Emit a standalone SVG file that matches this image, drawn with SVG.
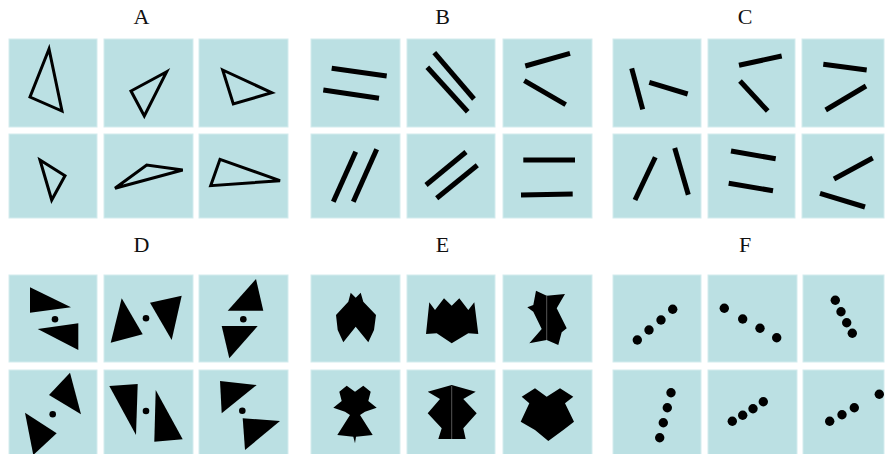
<svg xmlns="http://www.w3.org/2000/svg" width="885" height="454" viewBox="0 0 885 454">
  <style>
    .tile { fill: #bbe0e3; stroke: #d3ecee; stroke-width: 1; }
    .title { font-family: "Liberation Serif", "Times New Roman", serif; font-size: 22px; fill: #111; text-anchor: middle; }
    .outline { fill: none; stroke: #000; stroke-width: 3; stroke-linejoin: miter; }
    .bar { stroke: #000; stroke-width: 5; stroke-linecap: butt; }
    .solid { fill: #000; }
    .seam { stroke: #555; stroke-width: 1; }
  </style>
  <rect width="885" height="454" fill="#fff"/>

  <!-- panel titles -->
  <g id="titles">
    <text class="title" x="141.5" y="24">A</text>
    <text class="title" x="442.5" y="24">B</text>
    <text class="title" x="745" y="24">C</text>
    <text class="title" x="141.5" y="252">D</text>
    <text class="title" x="442.5" y="252">E</text>
    <text class="title" x="745" y="252">F</text>
  </g>

  <!-- Panel A: triangle outlines -->
  <g id="panel-a">
    <g id="a1"><rect class="tile" x="9" y="39" width="88" height="88"/><polygon class="outline" points="49,49 30,97 62,111"/></g>
    <g id="a2"><rect class="tile" x="104" y="39" width="89" height="88"/><polygon class="outline" points="166.7,71.7 131,91 144.3,116"/></g>
    <g id="a3"><rect class="tile" x="199" y="39" width="89" height="88"/><polygon class="outline" points="222.7,70 271.7,92.7 233.3,104"/></g>
    <g id="a4"><rect class="tile" x="9" y="134" width="88" height="84"/><polygon class="outline" points="40,160 65,175.7 51.7,200"/></g>
    <g id="a5"><rect class="tile" x="104" y="134" width="89" height="84"/><polygon class="outline" points="115,188.3 146.7,165 182.7,170"/></g>
    <g id="a6"><rect class="tile" x="199" y="134" width="89" height="84"/><polygon class="outline" points="220,159.3 280,180.7 210.7,185.7"/></g>
  </g>

  <!-- Panel B: bar pairs -->
  <g id="panel-b">
    <g id="b1"><rect class="tile" x="311" y="39" width="89" height="88"/>
      <line class="bar" x1="331.7" y1="68.3" x2="386.7" y2="76"/><line class="bar" x1="323.3" y1="90" x2="379" y2="98.3"/></g>
    <g id="b2"><rect class="tile" x="407" y="39" width="88" height="88"/>
      <line class="bar" x1="434.3" y1="52.7" x2="474" y2="99"/><line class="bar" x1="427.3" y1="67.3" x2="467.7" y2="111.7"/></g>
    <g id="b3"><rect class="tile" x="503" y="39" width="89" height="88"/>
      <line class="bar" x1="525.3" y1="66" x2="570" y2="53.3"/><line class="bar" x1="524.3" y1="80.7" x2="565.7" y2="104.7"/></g>
    <g id="b4"><rect class="tile" x="311" y="134" width="89" height="84"/>
      <line class="bar" x1="333.3" y1="201.7" x2="355.7" y2="151.7"/><line class="bar" x1="353.3" y1="201.7" x2="376.7" y2="149.3"/></g>
    <g id="b5"><rect class="tile" x="407" y="134" width="88" height="84"/>
      <line class="bar" x1="426" y1="185" x2="466" y2="152"/><line class="bar" x1="436.7" y1="198.3" x2="477.3" y2="165.3"/></g>
    <g id="b6"><rect class="tile" x="503" y="134" width="89" height="84"/>
      <line class="bar" x1="523.3" y1="160" x2="575" y2="160"/><line class="bar" x1="521" y1="195" x2="572.7" y2="194"/></g>
  </g>

  <!-- Panel C: bar pairs -->
  <g id="panel-c">
    <g id="c1"><rect class="tile" x="613" y="39" width="88" height="88"/>
      <line class="bar" x1="631.7" y1="68.3" x2="642.7" y2="109.3"/><line class="bar" x1="649.3" y1="82.3" x2="687.7" y2="94"/></g>
    <g id="c2"><rect class="tile" x="708" y="39" width="87" height="88"/>
      <line class="bar" x1="739" y1="65.3" x2="781.7" y2="56"/><line class="bar" x1="740" y1="81" x2="767.7" y2="111"/></g>
    <g id="c3"><rect class="tile" x="802" y="39" width="82" height="88"/>
      <line class="bar" x1="823.3" y1="64.3" x2="866.7" y2="70"/><line class="bar" x1="825.7" y1="110" x2="866" y2="86"/></g>
    <g id="c4"><rect class="tile" x="613" y="134" width="88" height="84"/>
      <line class="bar" x1="635" y1="200" x2="655.3" y2="157.3"/><line class="bar" x1="674.7" y1="148" x2="688.3" y2="194.7"/></g>
    <g id="c5"><rect class="tile" x="708" y="134" width="87" height="84"/>
      <line class="bar" x1="731" y1="151" x2="775.7" y2="158.7"/><line class="bar" x1="728.7" y1="183.3" x2="773" y2="190.7"/></g>
    <g id="c6"><rect class="tile" x="802" y="134" width="82" height="84"/>
      <line class="bar" x1="834" y1="179" x2="872.7" y2="158"/><line class="bar" x1="820" y1="193.3" x2="865" y2="207"/></g>
  </g>

  <!-- Panel D: solid triangle pairs around a dot -->
  <g id="panel-d">
    <g id="d1"><rect class="tile" x="9" y="275" width="88" height="87"/>
      <polygon class="solid" points="30,287.3 71,307.3 30,312.7"/><polygon class="solid" points="37.7,329 78.3,323.3 78.3,350"/><circle class="solid" cx="55" cy="319.3" r="3.3"/></g>
    <g id="d2"><rect class="tile" x="104" y="275" width="89" height="87"/>
      <polygon class="solid" points="121.7,298.3 142.7,334.3 110.7,342.7"/><polygon class="solid" points="150,302.7 181.7,295.7 171.7,340"/><circle class="solid" cx="146" cy="318.3" r="3.3"/></g>
    <g id="d3"><rect class="tile" x="199" y="275" width="89" height="87"/>
      <polygon class="solid" points="256,279 263.3,310.7 227.7,310.7"/><polygon class="solid" points="221.7,326 257.7,326 229.3,358.3"/><circle class="solid" cx="243.3" cy="319.3" r="3.3"/></g>
    <g id="d4"><rect class="tile" x="9" y="370" width="88" height="90"/>
      <polygon class="solid" points="70,372.7 81,414.3 49,395"/><polygon class="solid" points="25,412.7 56.7,433.3 33.3,455"/><circle class="solid" cx="52.7" cy="414.3" r="3.3"/></g>
    <g id="d5"><rect class="tile" x="104" y="370" width="89" height="90"/>
      <polygon class="solid" points="109.3,386 137.7,384 136,435"/><polygon class="solid" points="155.7,390 182.7,439.3 154.3,441.7"/><circle class="solid" cx="146" cy="411" r="3.3"/></g>
    <g id="d6"><rect class="tile" x="199" y="370" width="89" height="90"/>
      <polygon class="solid" points="220,381 256.7,385 221.7,413.3"/><polygon class="solid" points="242.7,418.3 280,421 245,450"/><circle class="solid" cx="242.3" cy="410.7" r="3.3"/></g>
  </g>

  <!-- Panel E: mirror-symmetric silhouettes -->
  <g id="panel-e">
    <g id="e1"><rect class="tile" x="311" y="275" width="89" height="87"/>
      <polygon class="solid" points="350.7,292.7 355.7,297.7 360.7,292.7 363.3,301.7 376,315 374,330 368.3,342.3 355.7,326.7 343.3,342.3 337.7,330 336,315 348.3,301.7"/></g>
    <g id="e2"><rect class="tile" x="407" y="275" width="88" height="87"/>
      <polygon class="solid" points="426,334 429.3,302.3 435,310 444,298.3 451.7,305.7 459.3,298.3 468.3,310 474.3,302.3 478.3,334 468.3,333.3 451.7,343.3 436.7,333.3"/></g>
    <g id="e3"><rect class="tile" x="503" y="275" width="89" height="87"/>
      <polygon class="solid" points="536,290.7 546.7,295.7 565,294 556.7,308.3 566.7,328.3 561.7,332.3 558.3,345 546.7,340 529.3,343.3 541.7,329 533.3,311.7 527.3,307.3 533.3,305"/>
      <line class="seam" x1="546.7" y1="295.7" x2="546.7" y2="340"/></g>
    <g id="e4"><rect class="tile" x="311" y="370" width="89" height="90"/>
      <polygon class="solid" points="339.3,391.7 346.7,385.7 355,391.7 363.3,385.7 370.7,391.7 368.3,401 376.7,407.7 365,411.7 360,415 372.7,435 356,436.7 355,443.3 353.3,436.7 337.3,435 350,415 345,411.7 333.3,407.7 341.7,401"/></g>
    <g id="e5"><rect class="tile" x="407" y="370" width="88" height="90"/>
      <polygon class="solid" points="427.7,391.7 451.7,385 475.7,391.7 463.3,399 476.7,413.3 463.3,428.3 465.7,439 438.3,439 441.7,428.3 427.7,413.3 440,399"/>
      <line class="seam" x1="451.7" y1="386" x2="451.7" y2="439"/></g>
    <g id="e6"><rect class="tile" x="503" y="370" width="89" height="90"/>
      <polygon class="solid" points="521.7,396.7 535,388.3 546.7,396.7 560,388.3 573.3,396.7 565,403.3 574,421.7 563.3,430 548.3,441 535,430 520.7,421.7 529.3,403.3"/></g>
  </g>

  <!-- Panel F: rows of four dots -->
  <g id="panel-f">
    <g id="f1"><rect class="tile" x="613" y="275" width="88" height="87"/>
      <circle class="solid" cx="637.3" cy="340" r="4.7"/><circle class="solid" cx="649" cy="330" r="4.7"/><circle class="solid" cx="661" cy="320" r="4.7"/><circle class="solid" cx="672.7" cy="309.3" r="4.7"/></g>
    <g id="f2"><rect class="tile" x="708" y="275" width="89" height="87"/>
      <circle class="solid" cx="724.3" cy="308.3" r="4.7"/><circle class="solid" cx="742.7" cy="319" r="4.7"/><circle class="solid" cx="760" cy="328.3" r="4.7"/><circle class="solid" cx="776.7" cy="337.7" r="4.7"/></g>
    <g id="f3"><rect class="tile" x="803" y="275" width="81" height="87"/>
      <circle class="solid" cx="835.3" cy="300.3" r="4.7"/><circle class="solid" cx="841" cy="311.7" r="4.7"/><circle class="solid" cx="846.7" cy="322.7" r="4.7"/><circle class="solid" cx="852.3" cy="333.3" r="4.7"/></g>
    <g id="f4"><rect class="tile" x="613" y="370" width="88" height="90"/>
      <circle class="solid" cx="671" cy="392.7" r="4.7"/><circle class="solid" cx="667.3" cy="407.7" r="4.7"/><circle class="solid" cx="663.3" cy="422.7" r="4.7"/><circle class="solid" cx="659.7" cy="437.7" r="4.7"/></g>
    <g id="f5"><rect class="tile" x="708" y="370" width="89" height="90"/>
      <circle class="solid" cx="732.3" cy="421.3" r="4.7"/><circle class="solid" cx="742.7" cy="415.3" r="4.7"/><circle class="solid" cx="753" cy="408.7" r="4.7"/><circle class="solid" cx="763.3" cy="401.7" r="4.7"/></g>
    <g id="f6"><rect class="tile" x="803" y="370" width="81" height="90"/>
      <circle class="solid" cx="829.7" cy="421.3" r="4.7"/><circle class="solid" cx="842" cy="414.7" r="4.7"/><circle class="solid" cx="854.3" cy="407.7" r="4.7"/><circle class="solid" cx="879.3" cy="394.3" r="4.7"/></g>
  </g>
</svg>
